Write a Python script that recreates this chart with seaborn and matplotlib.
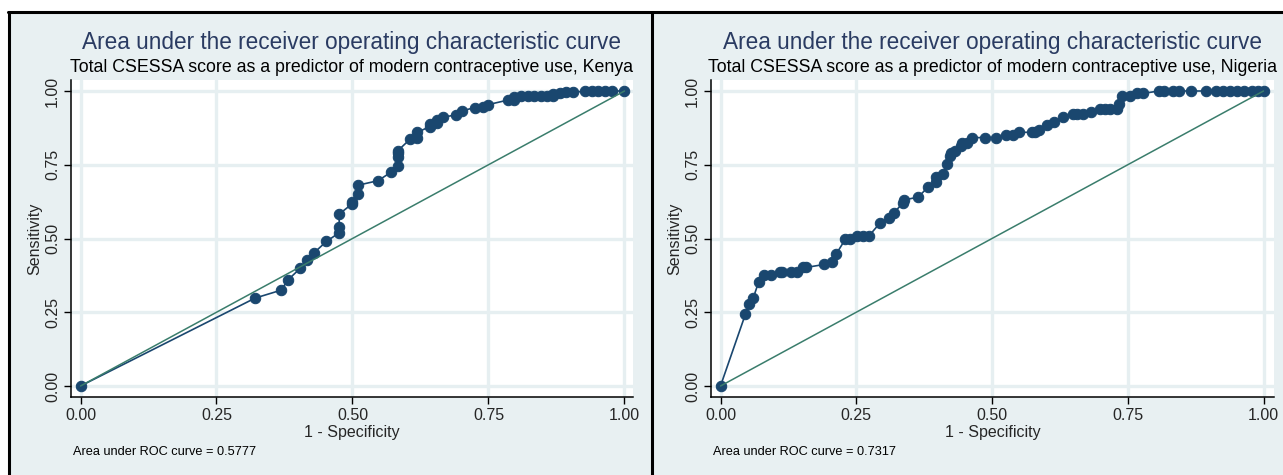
import matplotlib
matplotlib.use("Agg")
import matplotlib.pyplot as plt
import seaborn as sns
import pandas as pd
from matplotlib.lines import Line2D
from matplotlib.patches import Rectangle

# ROC points (1 - specificity, sensitivity)
kenya_fpr = [0.0, 0.321, 0.369, 0.381, 0.404, 0.417, 0.429, 0.452, 0.476, 0.476,
             0.475, 0.499, 0.500, 0.511, 0.511, 0.547, 0.571, 0.583, 0.583, 0.583,
             0.583, 0.606, 0.619, 0.619, 0.642, 0.643, 0.655, 0.655, 0.666, 0.690,
             0.702, 0.725, 0.739, 0.750, 0.785, 0.797, 0.797, 0.809, 0.822, 0.834,
             0.846, 0.857, 0.869, 0.869, 0.882, 0.893, 0.905, 0.928, 0.940, 0.952,
             0.964, 0.977, 1.0]
kenya_tpr = [0.0, 0.298, 0.325, 0.359, 0.399, 0.426, 0.451, 0.490, 0.520, 0.540,
             0.582, 0.617, 0.625, 0.651, 0.681, 0.696, 0.725, 0.747, 0.775, 0.791,
             0.797, 0.837, 0.840, 0.860, 0.879, 0.888, 0.893, 0.902, 0.911, 0.919,
             0.933, 0.944, 0.945, 0.954, 0.969, 0.969, 0.979, 0.983, 0.983, 0.983,
             0.983, 0.983, 0.983, 0.989, 0.992, 0.995, 0.995, 1.0, 1.0, 1.0,
             1.0, 1.0, 1.0]

nigeria_fpr = [0.0, 0.046, 0.053, 0.060, 0.070, 0.080, 0.093, 0.109, 0.114, 0.129,
               0.140, 0.152, 0.158, 0.191, 0.206, 0.213, 0.230, 0.238, 0.251, 0.262,
               0.274, 0.293, 0.310, 0.320, 0.336, 0.338, 0.364, 0.383, 0.396, 0.396,
               0.410, 0.417, 0.423, 0.425, 0.431, 0.442, 0.445, 0.454, 0.464, 0.487,
               0.507, 0.526, 0.538, 0.550, 0.574, 0.579, 0.587, 0.602, 0.614, 0.631,
               0.649, 0.657, 0.667, 0.683, 0.698, 0.708, 0.718, 0.730, 0.733, 0.740,
               0.755, 0.767, 0.779, 0.807, 0.817, 0.834, 0.844, 0.867, 0.894, 0.912,
               0.925, 0.938, 0.952, 0.965, 0.979, 0.990, 1.0]
nigeria_tpr = [0.0, 0.244, 0.278, 0.297, 0.351, 0.376, 0.376, 0.385, 0.385, 0.385,
               0.385, 0.402, 0.402, 0.412, 0.419, 0.447, 0.498, 0.498, 0.510, 0.510,
               0.510, 0.551, 0.571, 0.588, 0.621, 0.631, 0.640, 0.676, 0.693, 0.710,
               0.719, 0.753, 0.781, 0.789, 0.797, 0.815, 0.823, 0.823, 0.842, 0.842,
               0.842, 0.851, 0.851, 0.860, 0.860, 0.860, 0.868, 0.885, 0.894, 0.913,
               0.922, 0.922, 0.922, 0.930, 0.938, 0.938, 0.938, 0.938, 0.955, 0.983,
               0.983, 0.992, 0.992, 1.0, 1.0, 1.0, 1.0, 1.0, 1.0, 1.0,
               1.0, 1.0, 1.0, 1.0, 1.0, 1.0, 1.0]

countries = ["Kenya", "Nigeria"]
auc_values = ["0.5777", "0.7317"]
ticks = [0.0, 0.25, 0.5, 0.75, 1.0]
tick_labels = ["0.00", "0.25", "0.50", "0.75", "1.00"]

BG = "#e8f0f2"
GRID = "#e6eff1"
NAVY = "#1a476f"
DIAG = "#3a7d6c"
TITLE = "#2a3b62"

sns.set_style("white")
plt.rcParams["font.family"] = ["Liberation Sans", "DejaVu Sans"]

W, H = 1283, 475
fig = plt.figure(figsize=(W / 100, H / 100), dpi=100)
fig.patch.set_facecolor("white")


def fx(x):
    return x / W


def fy(y):
    return 1 - y / H


# panel background and frame lines
fig.add_artist(Rectangle((fx(9), 0), 1 - fx(9), fy(11.5), transform=fig.transFigure,
                         facecolor=BG, edgecolor="none", zorder=0))
for x0, y0, x1, y1 in [(8, 11.5, W, 11.5), (9, 11.5, 9, H), (652, 11.5, 652, H)]:
    fig.add_artist(Line2D([fx(x0), fx(x1)], [fy(y0), fy(y1)], transform=fig.transFigure,
                          color="black", lw=2.2, zorder=1))

panels = [
    dict(fpr=kenya_fpr, tpr=kenya_tpr, left=71, right=633, x0=80.5, x1=624.5),
    dict(fpr=nigeria_fpr, tpr=nigeria_tpr, left=711, right=1274, x0=720.5, x1=1263.5),
]
top, bottom, y0px, y1px = 80, 397, 386, 91

for i, p in enumerate(panels):
    ax = fig.add_axes([fx(p["left"]), fy(bottom), fx(p["right"] - p["left"]),
                       (bottom - top) / H])
    ax.set_facecolor("white")
    sx = p["x1"] - p["x0"]
    sy = y0px - y1px
    ax.set_xlim((p["left"] - p["x0"]) / sx, (p["right"] - p["x0"]) / sx)
    ax.set_ylim((y0px - bottom) / sy, (y0px - top) / sy)

    df = pd.DataFrame({"fpr": p["fpr"], "tpr": p["tpr"]})
    sns.lineplot(data=df, x="fpr", y="tpr", estimator=None, sort=False, ax=ax,
                 color=NAVY, lw=1.2, marker="o", markersize=7.5,
                 markeredgecolor=NAVY, markerfacecolor=NAVY, zorder=3)
    diag = pd.DataFrame({"x": [0.0, 1.0], "y": [0.0, 1.0]})
    sns.lineplot(data=diag, x="x", y="y", estimator=None, ax=ax, color=DIAG,
                 lw=1.1, zorder=4)

    ax.set_xticks(ticks)
    ax.set_xticklabels(tick_labels)
    ax.set_yticks(ticks)
    ax.set_yticklabels(tick_labels, rotation=90, va="center")
    ax.grid(True, color=GRID, lw=2.4)
    ax.set_axisbelow(True)
    for s in ["top", "right"]:
        ax.spines[s].set_visible(False)
    for s in ["left", "bottom"]:
        ax.spines[s].set_color("black")
        ax.spines[s].set_linewidth(1.1)
    ax.tick_params(axis="both", direction="out", length=5, width=1, color="black",
                   labelsize=11.5, pad=3, left=True, bottom=True)
    ax.set_xlabel("1 - Specificity", fontsize=11.5, labelpad=1)
    ax.set_ylabel("Sensitivity", fontsize=11.5, labelpad=2)

    cx = (p["left"] + p["right"]) / 2
    fig.text(fx(cx), fy(42), "Area under the receiver operating characteristic curve",
             ha="center", va="center", fontsize=16.3, color=TITLE)
    fig.text(fx(cx), fy(67),
             f"Total CSESSA score as a predictor of modern contraceptive use, {countries[i]}",
             ha="center", va="center", fontsize=12.8, color="black")
    fig.text(fx(p["left"] + 2), fy(452), f"Area under ROC curve = {auc_values[i]}",
             ha="left", va="center", fontsize=9.2, color="black")

fig.savefig("out.png", dpi=100, facecolor=fig.get_facecolor())
